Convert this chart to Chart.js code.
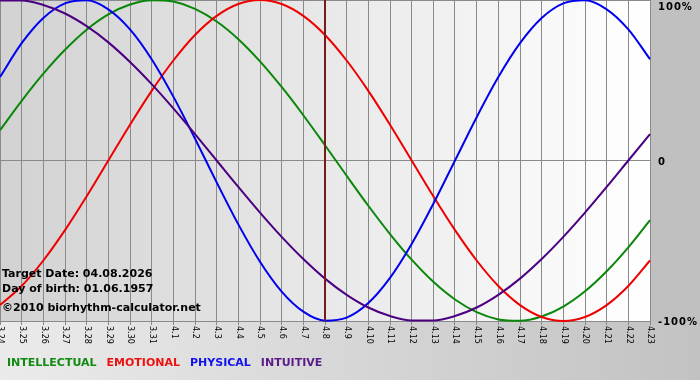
<!DOCTYPE html>
<html>
<head>
<meta charset="utf-8">
<script src="https://cdn.jsdelivr.net/npm/chart.js@4.4.1/dist/chart.umd.min.js"></script>
<style>
html,body{margin:0;padding:0;background:#c0c0c0;overflow:hidden;}
#wrap{width:700px;height:380px;position:relative;}
canvas{display:block;}
</style>
</head>
<body>
<div id="wrap"><canvas id="c" width="700" height="380"></canvas></div>
<script>
// ---- data ----
const dayLabels = ['3.24','3.25','3.26','3.27','3.28','3.29','3.30','3.31','4.1','4.2','4.3','4.4','4.5','4.6','4.7','4.8','4.9','4.10','4.11','4.12','4.13','4.14','4.15','4.16','4.17','4.18','4.19','4.20','4.21','4.22','4.23'];
const intellectual = [18.9,37.2,54.1,69.0,81.5,91.0,97.2,99.9,99.0,94.5,86.6,75.6,61.8,45.8,28.2,9.5,-9.5,-28.2,-45.8,-61.8,-75.6,-86.6,-94.5,-99.0,-99.9,-97.2,-91.0,-81.5,-69.0,-54.1,-37.2];
const emotional = [-90.1,-78.2,-62.3,-43.4,-22.3,0,22.3,43.4,62.3,78.2,90.1,97.5,100,97.5,90.1,78.2,62.3,43.4,22.3,0,-22.3,-43.4,-62.3,-78.2,-90.1,-97.5,-100,-97.5,-90.1,-78.2,-62.3];
const physical = [52.0,73.1,88.8,97.9,99.8,94.2,81.7,63.1,39.8,13.6,-13.6,-39.8,-63.1,-81.7,-94.2,-99.8,-97.9,-88.8,-73.1,-52.0,-27.0,0,27.0,52.0,73.1,88.8,97.9,99.8,94.2,81.7,63.1];
const intuitive = [99.7,99.7,96.9,91.6,83.7,73.6,61.4,47.6,32.5,16.5,0,-16.5,-32.5,-47.6,-61.4,-73.6,-83.7,-91.6,-96.9,-99.7,-99.7,-96.9,-91.6,-83.7,-73.6,-61.4,-47.6,-32.5,-16.5,0,16.5];
const yTickValues = [100, 0, -100];
const yTickLabels = ['100%', '0', '-100%'];
const targetDay = '4.8';
const infoLines = ['Target Date: 04.08.2026', 'Day of birth: 01.06.1957', '\u00A92010 biorhythm-calculator.net'];
const seriesNames = ['INTELLECTUAL', 'EMOTIONAL', 'PHYSICAL', 'INTUITIVE'];
const seriesColors = ['#0a870a', '#ee0000', '#0000ee', '#4b0082'];
const legendColors = ['#108a10', '#ee1111', '#1111ee', '#5a1a8a'];

const GRID = '#8a8a8a';

const bgPlugin = {
  id: 'bg',
  beforeDraw(chart) {
    const ctx = chart.ctx, a = chart.chartArea;
    ctx.save();
    // outer
    const g0 = ctx.createLinearGradient(0, 0, 700, 0);
    g0.addColorStop(0, '#ebebeb');
    g0.addColorStop(1, '#c2c2c2');
    ctx.fillStyle = g0;
    ctx.fillRect(0, 0, 700, 380);
    ctx.fillStyle = '#c0c0c0';
    ctx.fillRect(a.right + 1, 0, 700 - a.right - 1, a.bottom + 1);
    // plot area
    const g = ctx.createLinearGradient(a.left, 0, a.right, 0);
    g.addColorStop(0, '#d2d2d2');
    g.addColorStop(1, '#ffffff');
    ctx.fillStyle = g;
    ctx.fillRect(a.left, a.top, a.right - a.left, a.bottom - a.top);
    ctx.restore();
  }
};

const overlayPlugin = {
  id: 'overlay',
  afterDatasetsDraw(chart) {
    const ctx = chart.ctx, a = chart.chartArea;
    const xs = chart.scales.x, ys = chart.scales.y;
    ctx.save();
    // target line
    const tx = Math.round(xs.getPixelForValue(dayLabels.indexOf(targetDay)));
    ctx.strokeStyle = '#7a1a1a';
    ctx.lineWidth = 2;
    ctx.beginPath();
    ctx.moveTo(tx, a.top);
    ctx.lineTo(tx, a.bottom);
    ctx.stroke();

    // info text
    ctx.fillStyle = '#000';
    ctx.font = 'bold 11px "DejaVu Sans"';
    ctx.textAlign = 'left';
    ctx.textBaseline = 'alphabetic';
    const infoY = [277, 292, 311];
    infoLines.forEach((t, i) => ctx.fillText(t, 2, infoY[i]));

    // x tick labels rotated clockwise
    ctx.font = '8px "DejaVu Sans"';
    ctx.fillStyle = '#000';
    dayLabels.forEach((lab, i) => {
      const x = xs.getPixelForValue(i);
      ctx.save();
      ctx.translate(x + 0.5, a.bottom + 5);
      ctx.rotate(Math.PI / 2);
      ctx.textAlign = 'left';
      ctx.textBaseline = 'middle';
      ctx.fillText(lab, 0, 0);
      ctx.restore();
    });

    // y tick labels
    ctx.font = 'bold 10px "DejaVu Sans"';
    try { ctx.letterSpacing = '1px'; } catch (e) {}
    ctx.textBaseline = 'middle';
    yTickValues.forEach((v, i) => {
      let y = ys.getPixelForValue(v) + 1.5;
      if (y < 7.5) y = 7.5;
      ctx.fillText(yTickLabels[i], a.right + 8, y);
    });
    try { ctx.letterSpacing = '0px'; } catch (e) {}

    // legend
    ctx.font = 'bold 11px "DejaVu Sans"';
    ctx.textBaseline = 'alphabetic';
    let lx = 7;
    seriesNames.forEach((n, i) => {
      ctx.fillStyle = legendColors[i];
      ctx.fillText(n, lx, 366);
      lx += ctx.measureText(n).width + 10;
    });
    ctx.restore();
  }
};

const mk = (label, data, color) => ({
  label, data,
  borderColor: color,
  backgroundColor: color,
  borderWidth: 2,
  pointRadius: 0,
  pointHoverRadius: 0,
  fill: false,
  cubicInterpolationMode: 'monotone',
  clip: 3
});

new Chart(document.getElementById('c'), {
  type: 'line',
  data: {
    labels: dayLabels,
    datasets: [
      mk(seriesNames[3], intuitive, seriesColors[3]),
      mk(seriesNames[2], physical, seriesColors[2]),
      mk(seriesNames[1], emotional, seriesColors[1]),
      mk(seriesNames[0], intellectual, seriesColors[0])
    ]
  },
  options: {
    responsive: false,
    animation: false,
    events: [],
    layout: { padding: { left: 0, right: 0, top: 0, bottom: 0 } },
    plugins: { legend: { display: false }, tooltip: { enabled: false } },
    scales: {
      x: {
        type: 'category',
        offset: false,
        grid: { color: GRID, lineWidth: 1, drawTicks: true, tickLength: 4, tickColor: GRID },
        border: { display: true, color: GRID },
        ticks: { display: false, autoSkip: false },
        afterFit(s) { s.height = 59; }
      },
      y: {
        position: 'right',
        min: -100, max: 100,
        grid: { color: GRID, lineWidth: 1, drawTicks: false },
        border: { display: true, color: GRID },
        ticks: { display: false, stepSize: 100 },
        afterFit(s) { s.width = 50; }
      }
    }
  },
  plugins: [bgPlugin, overlayPlugin]
});
</script>
</body>
</html>
